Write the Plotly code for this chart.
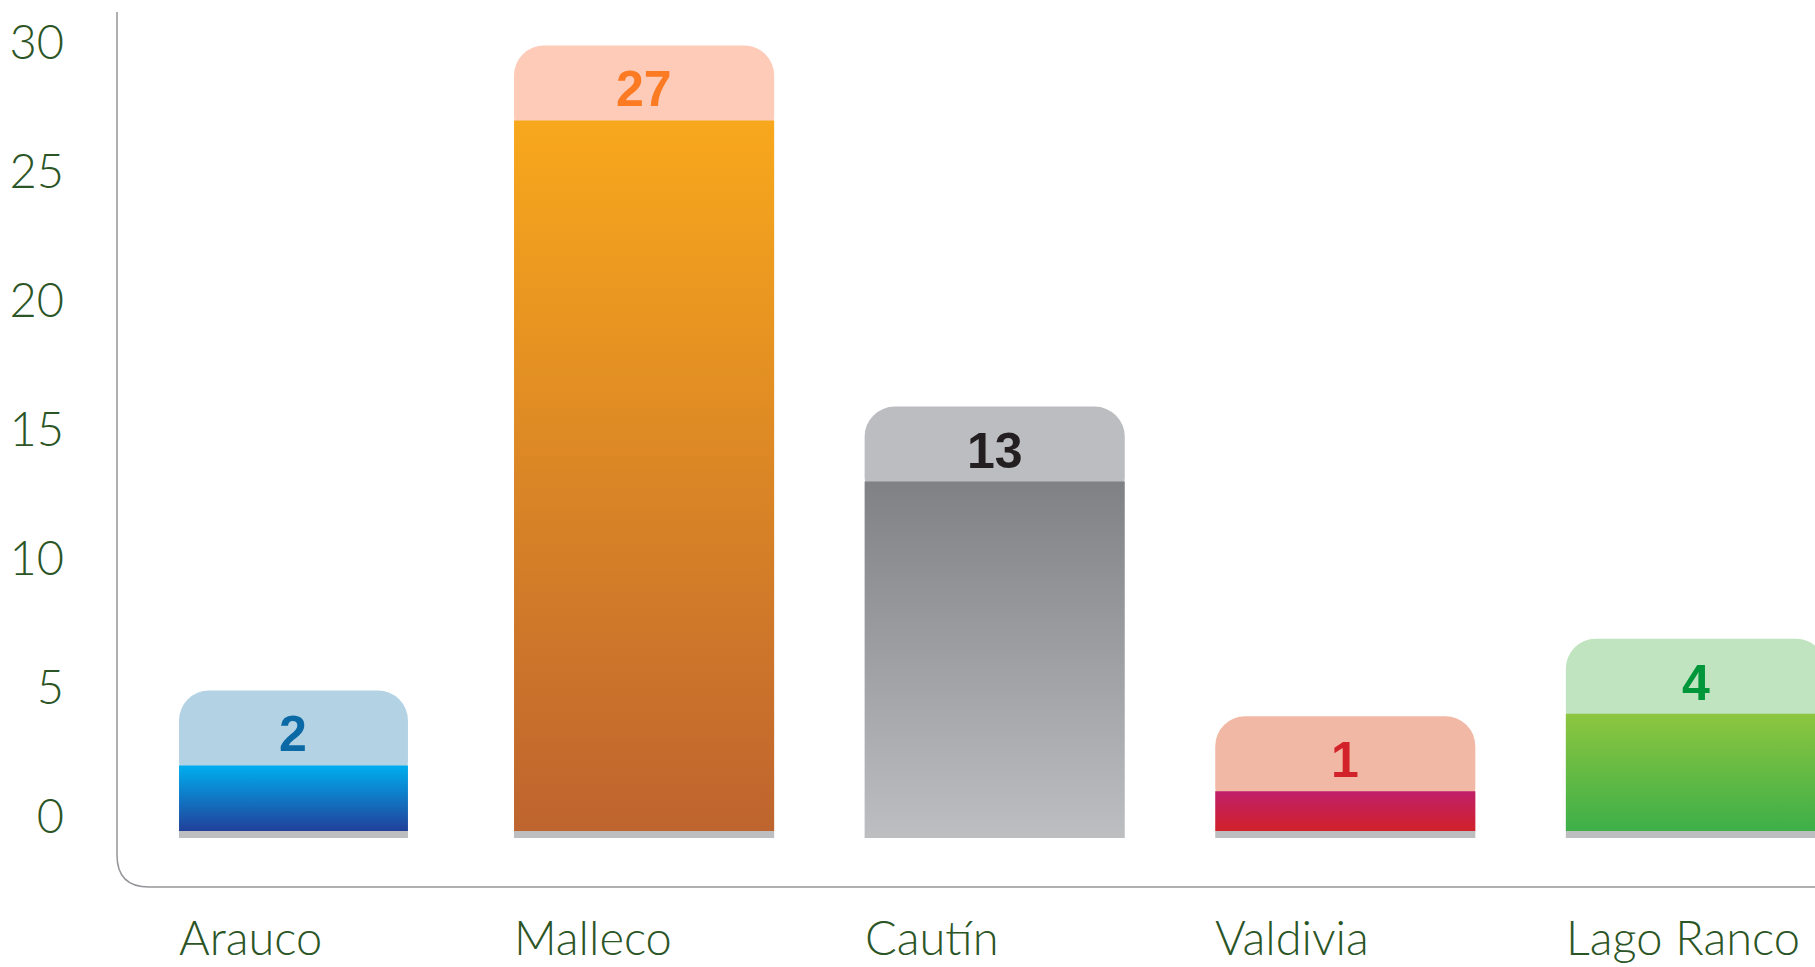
import plotly.graph_objects as go

# ---- data ----
categories = ["Arauco", "Malleco", "Cautín", "Valdivia", "Lago Ranco"]
values = [2, 27, 13, 1, 4]
y_ticks = [0, 5, 10, 15, 20, 25, 30]

# ---- styles ----
bar_widths = [0.653, 0.742, 0.742, 0.742, 0.742]
grad_top = ["#00aeef", "#f8a81c", "#808184", "#c0206b", "#8dc63f"]
grad_bottom = ["#21409a", "#be642f", "#bcbdc0", "#d12129", "#3daf49"]
box_colors = ["#b3d3e5", "#fecbb9", "#bcbdc0", "#f1b9a5", "#c0e4c0"]
label_colors = ["#0b6aa5", "#fb7a22", "#231f20", "#d2232a", "#00963a"]
text_green = "#2c5526"
axis_grey = "#939598"
floor_grey = "#bcbec0"

W, H = 1815, 967
ML, MR, MT, MB = 117, 0, 12, 80
plot_w = W - ML - MR
plot_h = H - MT - MB
px_per_unit = 25.8          # vertical scale
px_per_cat = 350.6          # horizontal scale
zero_px_from_bottom = 70    # y=0 sits 70px above the plot's bottom edge
floor = -14 / px_per_unit       # bars extend a little under the zero line
floor_bottom = -21 / px_per_unit
box_h = 75 / px_per_unit
box_tuck = 26 / px_per_unit     # part of the box hidden under the bar

y_min = -zero_px_from_bottom / px_per_unit
y_max = y_min + plot_h / px_per_unit
x_min = -0.5034
x_max = x_min + plot_w / px_per_cat

fig = go.Figure()

idx = list(range(len(categories)))

# grey floor strips under each bar
fig.add_trace(go.Bar(
    x=idx, y=[floor - floor_bottom] * len(idx), base=[floor_bottom] * len(idx),
    width=bar_widths, marker=dict(color=floor_grey, line=dict(width=0)),
    hoverinfo="skip", showlegend=False))

# label boxes with rounded top corners sitting on top of each bar
fig.add_trace(go.Bar(
    x=idx, y=[box_h + box_tuck] * len(idx),
    base=[v - box_tuck for v in values], width=bar_widths,
    marker=dict(color=box_colors, line=dict(width=0), cornerradius=30),
    hoverinfo="skip", showlegend=False))

# gradient bars
for i, v in enumerate(values):
    x0 = i - bar_widths[i] / 2
    x1 = i + bar_widths[i] / 2
    fig.add_trace(go.Scatter(
        x=[x0, x1, x1, x0, x0], y=[floor, floor, v, v, floor],
        mode="lines", line=dict(width=0), fill="toself",
        fillgradient=dict(type="vertical",
                          colorscale=[[0, grad_bottom[i]], [1, grad_top[i]]]),
        name=categories[i], hoverinfo="skip", showlegend=False))

# value labels
for i, v in enumerate(values):
    fig.add_annotation(
        x=i, y=v, xref="x", yref="y", text=f"<b>{v}</b>", showarrow=False,
        yanchor="middle", xanchor="center", yshift=31,
        font=dict(family="Liberation Sans, Arial, sans-serif", size=50,
                  color=label_colors[i]))

# category labels, left aligned with the bars
for i, c in enumerate(categories):
    fig.add_annotation(
        x=i - bar_widths[i] / 2, y=0, xref="x", yref="paper", text=c,
        showarrow=False, xanchor="left", yanchor="middle", yshift=-50,
        xshift=-2,
        font=dict(family="Lato, sans-serif", size=47, color=text_green,
                  weight=300))

# axis frame with rounded lower-left corner
r = 32
fig.add_shape(
    type="path", xref="paper", yref="paper", xsizemode="pixel",
    ysizemode="pixel", xanchor=0, yanchor=0,
    path=f"M 0,{plot_h} L 0,{r} Q 0,0 {r},0 L {plot_w + 5},0",
    line=dict(color=axis_grey, width=1.5), layer="below")

fig.update_layout(
    width=W, height=H, margin=dict(l=ML, r=MR, t=MT, b=MB, autoexpand=False),
    paper_bgcolor="white", plot_bgcolor="white", barmode="overlay",
    showlegend=False,
    xaxis=dict(range=[x_min, x_max], showticklabels=False, showgrid=False,
               zeroline=False, showline=False, fixedrange=True,
               automargin=False),
    yaxis=dict(range=[y_min, y_max], tickvals=y_ticks,
               ticktext=[str(t) for t in y_ticks], showgrid=False,
               zeroline=False, showline=False, ticks="",
               ticklabelstandoff=52, automargin=False,
               tickfont=dict(family="Lato, sans-serif", size=47,
                             color=text_green, weight=300)),
)

fig.write_html(
    "out.html",
    config={"displayModeBar": False},
    post_script="document.body.style.margin='0';"
                "document.body.style.overflow='hidden';")
